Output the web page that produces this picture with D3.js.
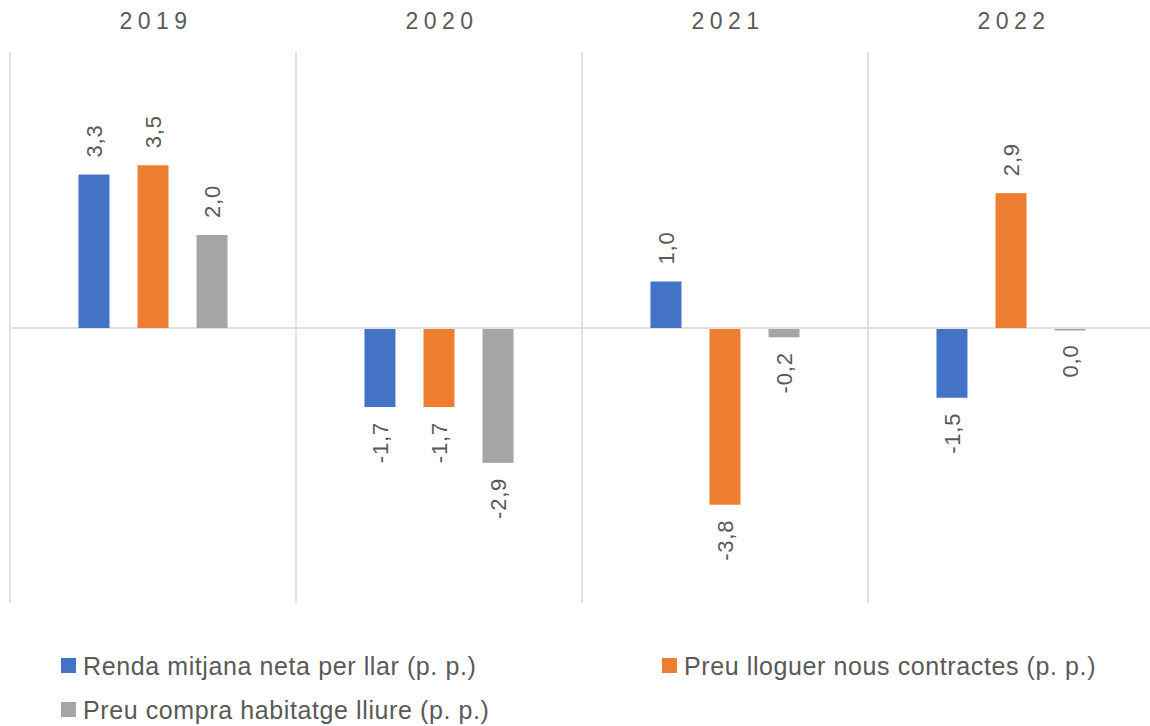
<!DOCTYPE html>
<html>
  <head>
    <meta charset="utf-8" />
    <script src="https://d3js.org/d3.v7.min.js"></script>
    <title>Renda i preus</title>
    <style>
      body { margin: 0; background: #fff; }
      text { font-family: "Liberation Sans", Arial, sans-serif; fill: #595959; }
      .grid { stroke: #d9d9d9; stroke-width: 1.5px; }
    </style>
  </head>
  <body>
    <svg id="chart" width="1150" height="726"></svg>
    <script>
      var years = ["2019", "2020", "2021", "2022"];
      var series = [
        "Renda mitjana neta per llar (p. p.)",
        "Preu lloguer nous contractes (p. p.)",
        "Preu compra habitatge lliure (p. p.)"
      ];
      var colors = ["#4472C4", "#ED7D31", "#A5A5A5"];
      var renda = [3.3, -1.7, 1.0, -1.5];
      var lloguer = [3.5, -1.7, -3.8, 2.9];
      var compra = [2.0, -2.9, -0.2, 0.0];
      var values = [renda, lloguer, compra];

      var svg = d3.select("#chart");

      var x0 = d3.scaleBand().domain(years).range([10, 1154]).padding(0);
      var x1 = d3.scaleBand().domain(d3.range(series.length))
        .range([0, x0.bandwidth()])
        .paddingInner(0.475).paddingOuter(1.16);
      var y = d3.scaleLinear().domain([-6, 6]).range([607, 49]);

      // separators
      svg.selectAll(".sep")
        .data(years)
        .enter().append("line")
        .attr("class", "grid")
        .attr("x1", function(d) { return x0(d); })
        .attr("x2", function(d) { return x0(d); })
        .attr("y1", 52).attr("y2", 603);

      // year labels
      svg.selectAll(".year")
        .data(years)
        .enter().append("text")
        .attr("x", function(d) { return x0(d) + x0.bandwidth() / 2 + 3; })
        .attr("y", 29)
        .attr("text-anchor", "middle")
        .attr("font-size", 23)
        .attr("letter-spacing", "5.5px")
        .text(function(d) { return d; });

      // zero line
      svg.append("line")
        .attr("class", "grid")
        .attr("x1", 10).attr("x2", 1150)
        .attr("y1", y(0)).attr("y2", y(0));

      var flat = [];
      years.forEach(function(yr, i) {
        values.forEach(function(arr, s) {
          flat.push({ year: yr, s: s, v: arr[i] });
        });
      });

      svg.selectAll(".bar")
        .data(flat)
        .enter().append("rect")
        .attr("x", function(d) { return x0(d.year) + x1(d.s); })
        .attr("width", x1.bandwidth())
        .attr("y", function(d) { return d.v > 0 ? y(d.v) : y(0) + 1; })
        .attr("height", function(d) { return Math.max(1.5, Math.abs(y(d.v) - y(0)) - (d.v > 0 ? 0 : 1)); })
        .attr("fill", function(d) { return colors[d.s]; });

      svg.selectAll(".lbl")
        .data(flat)
        .enter().append("text")
        .attr("font-size", 22)
        .attr("letter-spacing", "0.8px")
        .attr("transform", function(d) {
          var cx = x0(d.year) + x1(d.s) + x1.bandwidth() / 2 + 8;
          var cy = d.v > 0 ? y(d.v) - 17 : Math.max(y(d.v), y(0) + 1.5) + 15;
          return "translate(" + cx + "," + cy + ") rotate(-90)";
        })
        .attr("text-anchor", function(d) { return d.v > 0 ? "start" : "end"; })
        .text(function(d) { return d3.format(".1f")(d.v).replace(".", ",").replace("−", "-"); });

      // legend
      var legPos = [[61, 666], [662, 666], [61, 710]];
      var leg = svg.selectAll(".leg")
        .data(series)
        .enter().append("g")
        .attr("transform", function(d, i) { return "translate(" + legPos[i][0] + "," + legPos[i][1] + ")"; });
      leg.append("rect")
        .attr("x", 0).attr("y", -8)
        .attr("width", 15).attr("height", 15)
        .attr("fill", function(d, i) { return colors[i]; });
      leg.append("text")
        .attr("x", 22).attr("y", 9)
        .attr("font-size", 25)
        .attr("letter-spacing", "0.6px")
        .text(function(d) { return d; });
    </script>
  </body>
</html>
